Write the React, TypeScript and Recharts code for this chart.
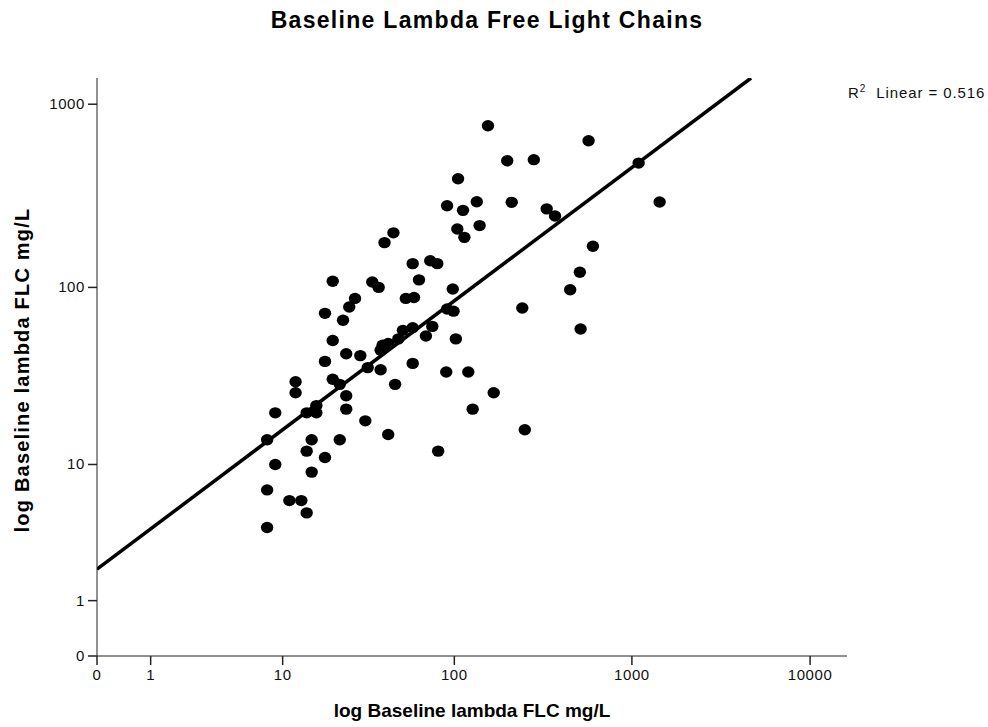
import React from 'react';
import { ScatterChart, Scatter, XAxis, YAxis, ReferenceLine } from 'recharts';

// Baseline lambda FLC (mg/L)
const xValues = [
  8, 8, 8, 9, 9, 11, 13, 14, 15, 14, 18, 15, 22, 12, 12, 16, 14, 16, 24, 24,
  20, 22, 31, 42, 81, 32, 38, 46, 58, 90, 120, 167, 127, 250, 18, 20, 24, 29, 39, 42,
  38, 48, 51, 58, 75, 69, 102, 18, 23, 27, 25, 20, 34, 37, 63, 53, 59, 98, 91, 99,
  58, 73, 80, 45, 40, 105, 91, 112, 134, 104, 114, 139, 155, 199, 281, 211, 332, 370, 571, 1091,
  1431, 604, 510, 450, 242, 515,
];
const yValues = [
  4, 7, 14, 10, 20, 6, 6, 5, 9, 12, 11, 14, 14, 30, 26, 22, 20, 20, 25, 21,
  31, 29, 18, 15, 12, 36, 35, 29, 38, 34, 34, 26, 21, 16, 39, 51, 43, 42, 48, 49,
  45, 52, 58, 60, 61, 54, 52, 72, 66, 87, 78, 108, 107, 100, 110, 87, 88, 98, 76, 74,
  135, 140, 135, 199, 176, 393, 280, 264, 294, 209, 188, 218, 764, 492, 499, 292, 269, 246, 633, 478,
  293, 168, 121, 97, 77, 59,
];

const xTickValues = [0, 1, 10, 100, 1000, 10000];
const yTickValues = [0, 1, 10, 100, 1000];

// fitted line in log(v + 1) space
const FIT_INTERCEPT = 0.472;
const FIT_SLOPE = 0.728;
const R2_TEXT = '0.516';

const X_MAX = 4.207;
const Y_MAX = 3.143;

const toLog = (v: number) => Math.log10(v + 1);
const fromLog = (v: number) => Math.round(Math.pow(10, v) - 1);

const points = xValues.map((x, i) => ({ lx: toLog(x), ly: toLog(yValues[i]) }));

const fitEndX = (Y_MAX - FIT_INTERCEPT) / FIT_SLOPE;
const fitSegment = [
  { x: 0, y: FIT_INTERCEPT },
  { x: fitEndX, y: Y_MAX },
];

const FONT = 'Arial, "Liberation Sans", sans-serif';

const Dot = (props: any) => (
  <ellipse cx={props.cx} cy={props.cy} rx={6.2} ry={5.7} fill="#000" />
);

const XTick = ({ x, y, payload }: any) => (
  <text x={x} y={y} dy={12} textAnchor="middle" fontSize={15} letterSpacing={0.6} fill="#111" fontFamily={FONT}>
    {fromLog(payload.value)}
  </text>
);

const YTick = ({ x, y, payload }: any) => (
  <text x={x} y={y} dy={5} textAnchor="end" fontSize={15} letterSpacing={0.6} fill="#111" fontFamily={FONT}>
    {fromLog(payload.value)}
  </text>
);

export default function App() {
  return (
    <div style={{ position: 'absolute', left: 0, top: 0, width: 988, height: 727, background: '#fff', fontFamily: FONT }}>
      <div
        style={{
          position: 'absolute', left: 487, top: 7, transform: 'translateX(-50%)',
          fontSize: 23, letterSpacing: 1.3, fontWeight: 'bold', whiteSpace: 'nowrap', color: '#000',
        }}
      >
        Baseline Lambda Free Light Chains
      </div>

      <div style={{ position: 'absolute', left: 848, top: 83, fontSize: 15, letterSpacing: 0.9, whiteSpace: 'nowrap', color: '#111' }}>
        R<sup style={{ fontSize: 10 }}>2</sup>&nbsp; Linear = {R2_TEXT}
      </div>

      <ScatterChart width={988} height={727} margin={{ top: 78, right: 141, bottom: 31, left: 37 }}>
        <XAxis
          type="number"
          dataKey="lx"
          domain={[0, X_MAX]}
          ticks={xTickValues.map(toLog)}
          interval={0}
          allowDataOverflow
          height={40}
          tickSize={9}
          tickMargin={3}
          tick={<XTick />}
          stroke="#222"
          tickLine={{ stroke: '#222', strokeWidth: 1.5 }}
        />
        <YAxis
          type="number"
          dataKey="ly"
          domain={[0, Y_MAX]}
          ticks={yTickValues.map(toLog)}
          interval={0}
          allowDataOverflow
          width={60}
          tickSize={9}
          tickMargin={3}
          tick={<YTick />}
          stroke="#222"
          tickLine={{ stroke: '#222', strokeWidth: 1.5 }}
        />
        <Scatter data={points} fill="#000" shape={<Dot />} isAnimationActive={false} />
        <ReferenceLine segment={fitSegment} stroke="#000" strokeWidth={3.5} ifOverflow="hidden" />
      </ScatterChart>

      <div
        style={{
          position: 'absolute', left: 472, top: 700, transform: 'translateX(-50%)',
          fontSize: 19, fontWeight: 'bold', whiteSpace: 'nowrap', color: '#000',
        }}
      >
        log Baseline lambda FLC mg/L
      </div>
      <div
        style={{
          position: 'absolute', left: 22, top: 370, transform: 'translate(-50%, -50%) rotate(-90deg)',
          fontSize: 20, letterSpacing: 1.2, fontWeight: 'bold', whiteSpace: 'nowrap', color: '#000',
        }}
      >
        log Baseline lambda FLC mg/L
      </div>
    </div>
  );
}
